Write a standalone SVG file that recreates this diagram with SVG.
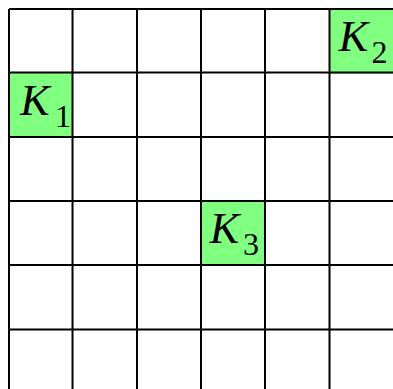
<svg xmlns="http://www.w3.org/2000/svg" width="393" height="389" viewBox="0 0 393 389">
  <style>
    .cell { fill: #80ff80; stroke: none; }
    .grid line { stroke: #000; stroke-width: 2; }
  </style>
  <rect width="393" height="389" fill="#fff"/>
  <g id="K1">
    <rect class="cell" x="9" y="72.5" width="63.5" height="64.5"/>
  </g>
  <g id="K2">
    <rect class="cell" x="329.5" y="9" width="63.5" height="65"/>
  </g>
  <g id="K3">
    <rect class="cell" x="201" y="201" width="64" height="64"/>
  </g>
  <g class="grid" id="grid">
    <line x1="9" y1="9" x2="393" y2="9"/>
    <line x1="9" y1="72.5" x2="393" y2="72.5"/>
    <line x1="9" y1="137" x2="393" y2="137"/>
    <line x1="9" y1="201" x2="393" y2="201"/>
    <line x1="9" y1="265" x2="393" y2="265"/>
    <line x1="9" y1="329.5" x2="393" y2="329.5"/>
    <line x1="9" y1="9" x2="9" y2="389"/>
    <line x1="72.5" y1="9" x2="72.5" y2="389"/>
    <line x1="137" y1="9" x2="137" y2="389"/>
    <line x1="201" y1="9" x2="201" y2="389"/>
    <line x1="265" y1="9" x2="265" y2="389"/>
    <line x1="329.5" y1="9" x2="329.5" y2="389"/>
  </g>
  <g id="labels" font-family="Liberation Serif, serif" fill="#000" text-anchor="middle">
    <text font-style="italic" font-size="44" x="35" y="115">K</text><text font-size="32" x="63" y="127">1</text>
    <text font-style="italic" font-size="44" x="353.5" y="51">K</text><text font-size="32" x="379.5" y="63">2</text>
    <text font-style="italic" font-size="44" x="224.5" y="243">K</text><text font-size="32" x="251" y="255">3</text>
  </g>
</svg>
